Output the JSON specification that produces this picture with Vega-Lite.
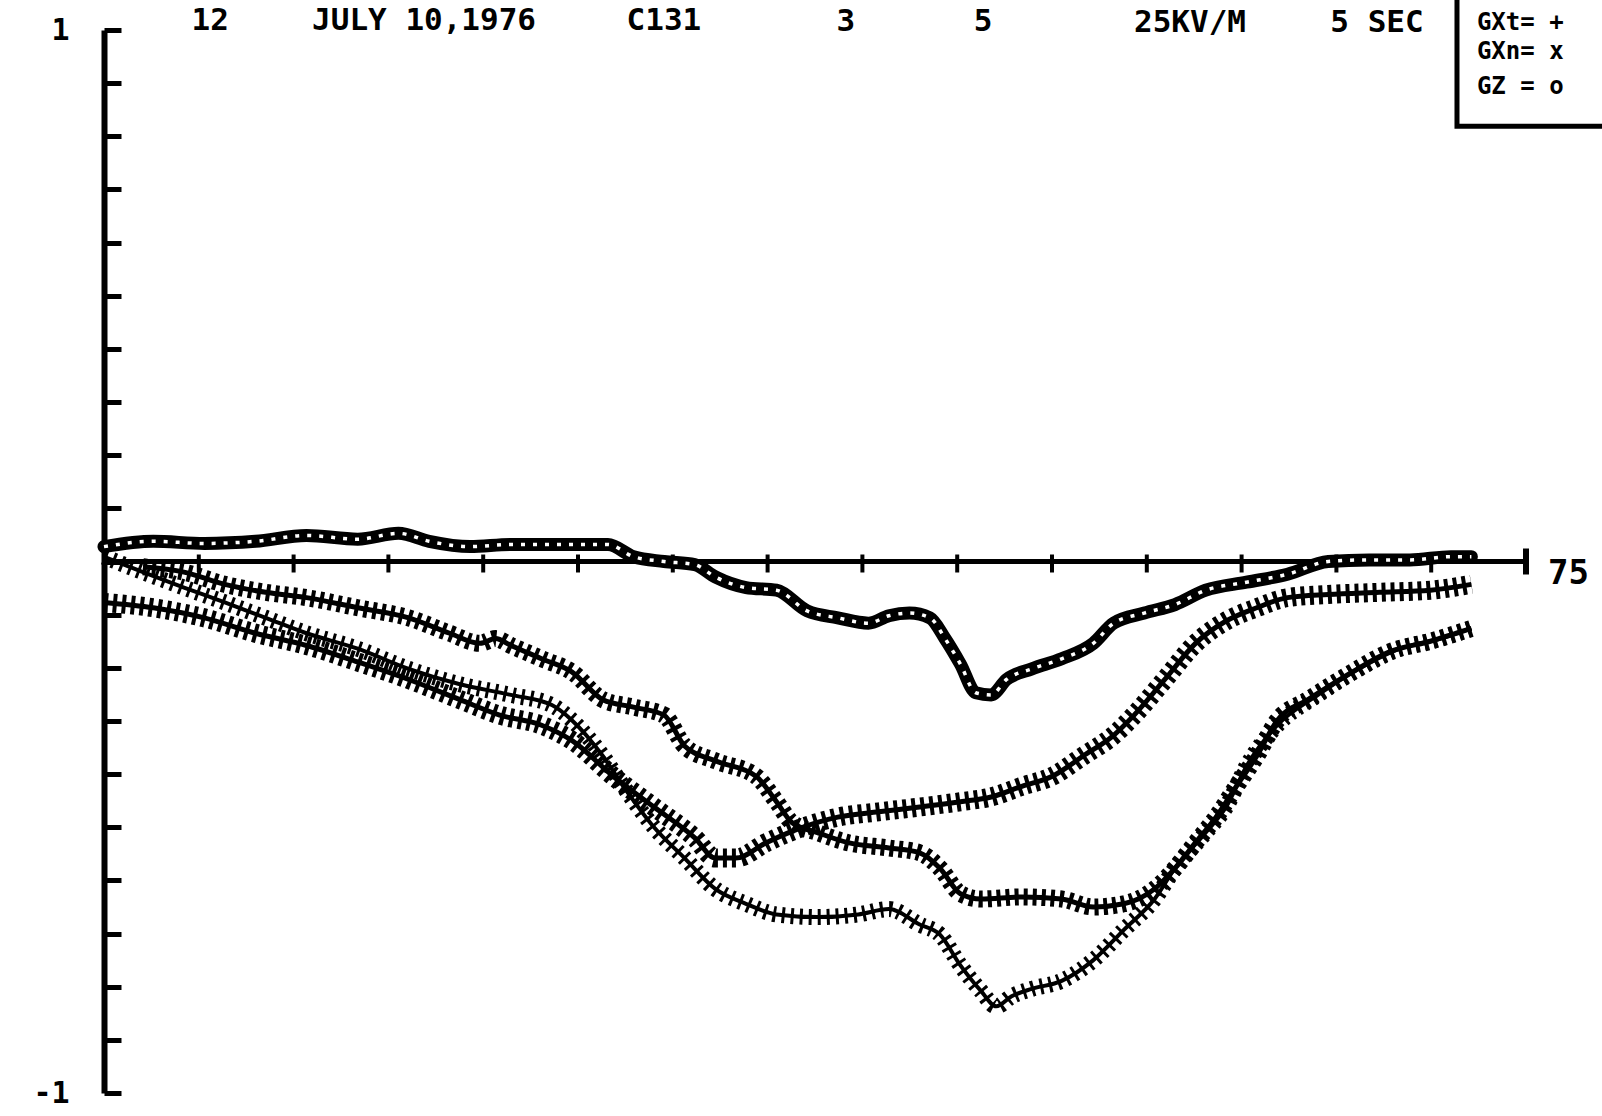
{
  "$schema": "https://vega.github.io/schema/vega-lite/v6.json",
  "width": 1422,
  "height": 1063,
  "autosize": {"type": "none"},
  "padding": {"left": 104, "top": 30, "right": 76, "bottom": 23},
  "background": "white",
  "config": {"view": {"stroke": null}},
  "datasets": {
    "curves": [
      {"s":"GZ","t":0,"v":0.028},{"s":"GZ","t":2.6,"v":0.038},{"s":"GZ","t":5.29,"v":0.034},{"s":"GZ","t":7.99,"v":0.038},{"s":"GZ","t":10.68,"v":0.049},{"s":"GZ","t":13.38,"v":0.042},{"s":"GZ","t":15.53,"v":0.053},{"s":"GZ","t":17.15,"v":0.038},{"s":"GZ","t":19.31,"v":0.028},{"s":"GZ","t":21.46,"v":0.032},{"s":"GZ","t":24.15,"v":0.032},{"s":"GZ","t":26.58,"v":0.032},{"s":"GZ","t":27.93,"v":0.009},{"s":"GZ","t":29.54,"v":0.0},{"s":"GZ","t":31.16,"v":-0.006},{"s":"GZ","t":32.24,"v":-0.029},{"s":"GZ","t":33.86,"v":-0.049},{"s":"GZ","t":35.47,"v":-0.054},{"s":"GZ","t":37.09,"v":-0.093},{"s":"GZ","t":38.7,"v":-0.106},{"s":"GZ","t":40.32,"v":-0.116},{"s":"GZ","t":41.4,"v":-0.102},{"s":"GZ","t":42.48,"v":-0.097},{"s":"GZ","t":43.56,"v":-0.106},{"s":"GZ","t":44.36,"v":-0.145},{"s":"GZ","t":45.17,"v":-0.193},{"s":"GZ","t":45.98,"v":-0.247},{"s":"GZ","t":46.79,"v":-0.251},{"s":"GZ","t":47.6,"v":-0.222},{"s":"GZ","t":48.94,"v":-0.202},{"s":"GZ","t":50.51,"v":-0.183},{"s":"GZ","t":52.18,"v":-0.154},{"s":"GZ","t":53.25,"v":-0.116},{"s":"GZ","t":54.87,"v":-0.097},{"s":"GZ","t":56.49,"v":-0.081},{"s":"GZ","t":58.11,"v":-0.054},{"s":"GZ","t":60.26,"v":-0.039},{"s":"GZ","t":62.42,"v":-0.024},{"s":"GZ","t":64.57,"v":0.0},{"s":"GZ","t":66.73,"v":0.003},{"s":"GZ","t":68.88,"v":0.003},{"s":"GZ","t":71.04,"v":0.009},{"s":"GZ","t":72.12,"v":0.009},
      {"s":"GY","t":0,"v":-0.077},{"s":"GY","t":2.6,"v":-0.087},{"s":"GY","t":5.29,"v":-0.106},{"s":"GY","t":7.99,"v":-0.135},{"s":"GY","t":10.68,"v":-0.158},{"s":"GY","t":13.38,"v":-0.189},{"s":"GY","t":16.07,"v":-0.222},{"s":"GY","t":18.77,"v":-0.26},{"s":"GY","t":20.87,"v":-0.289},{"s":"GY","t":23.08,"v":-0.308},{"s":"GY","t":24.69,"v":-0.337},{"s":"GY","t":26.85,"v":-0.404},{"s":"GY","t":29.01,"v":-0.462},{"s":"GY","t":31.16,"v":-0.52},{"s":"GY","t":32.24,"v":-0.558},{"s":"GY","t":33.32,"v":-0.558},{"s":"GY","t":34.93,"v":-0.529},{"s":"GY","t":36.55,"v":-0.504},{"s":"GY","t":38.7,"v":-0.481},{"s":"GY","t":40.86,"v":-0.471},{"s":"GY","t":43.02,"v":-0.462},{"s":"GY","t":45.17,"v":-0.452},{"s":"GY","t":46.79,"v":-0.443},{"s":"GY","t":48.41,"v":-0.423},{"s":"GY","t":50.02,"v":-0.404},{"s":"GY","t":51.64,"v":-0.366},{"s":"GY","t":53.25,"v":-0.327},{"s":"GY","t":54.33,"v":-0.289},{"s":"GY","t":55.95,"v":-0.222},{"s":"GY","t":57.57,"v":-0.154},{"s":"GY","t":59.18,"v":-0.112},{"s":"GY","t":60.8,"v":-0.087},{"s":"GY","t":62.42,"v":-0.068},{"s":"GY","t":64.57,"v":-0.062},{"s":"GY","t":67.27,"v":-0.058},{"s":"GY","t":69.96,"v":-0.054},{"s":"GY","t":72.12,"v":-0.043},
      {"s":"GXt","t":2.06,"v":-0.01},{"s":"GXt","t":4.22,"v":-0.02},{"s":"GXt","t":6.37,"v":-0.043},{"s":"GXt","t":8.53,"v":-0.058},{"s":"GXt","t":10.68,"v":-0.068},{"s":"GXt","t":13.38,"v":-0.087},{"s":"GXt","t":16.07,"v":-0.106},{"s":"GXt","t":18.23,"v":-0.135},{"s":"GXt","t":19.84,"v":-0.154},{"s":"GXt","t":20.65,"v":-0.145},{"s":"GXt","t":21.46,"v":-0.158},{"s":"GXt","t":23.08,"v":-0.183},{"s":"GXt","t":24.69,"v":-0.208},{"s":"GXt","t":26.31,"v":-0.26},{"s":"GXt","t":27.93,"v":-0.274},{"s":"GXt","t":29.54,"v":-0.289},{"s":"GXt","t":30.62,"v":-0.347},{"s":"GXt","t":32.24,"v":-0.375},{"s":"GXt","t":34.39,"v":-0.404},{"s":"GXt","t":35.47,"v":-0.452},{"s":"GXt","t":36.28,"v":-0.491},{"s":"GXt","t":37.63,"v":-0.51},{"s":"GXt","t":39.24,"v":-0.529},{"s":"GXt","t":41.4,"v":-0.539},{"s":"GXt","t":43.02,"v":-0.548},{"s":"GXt","t":44.09,"v":-0.577},{"s":"GXt","t":45.17,"v":-0.625},{"s":"GXt","t":46.25,"v":-0.635},{"s":"GXt","t":48.41,"v":-0.631},{"s":"GXt","t":50.51,"v":-0.635},{"s":"GXt","t":52.18,"v":-0.65},{"s":"GXt","t":53.79,"v":-0.644},{"s":"GXt","t":55.41,"v":-0.616},{"s":"GXt","t":56.49,"v":-0.577},{"s":"GXt","t":57.57,"v":-0.529},{"s":"GXt","t":58.65,"v":-0.481},{"s":"GXt","t":59.72,"v":-0.423},{"s":"GXt","t":60.8,"v":-0.366},{"s":"GXt","t":61.88,"v":-0.299},{"s":"GXt","t":63.5,"v":-0.26},{"s":"GXt","t":65.65,"v":-0.212},{"s":"GXt","t":67.8,"v":-0.17},{"s":"GXt","t":69.96,"v":-0.15},{"s":"GXt","t":72.12,"v":-0.126},
      {"s":"GXn","t":0,"v":0.009},{"s":"GXn","t":2.06,"v":-0.02},{"s":"GXn","t":4.22,"v":-0.049},{"s":"GXn","t":6.37,"v":-0.077},{"s":"GXn","t":8.53,"v":-0.106},{"s":"GXn","t":10.68,"v":-0.135},{"s":"GXn","t":13.38,"v":-0.164},{"s":"GXn","t":16.07,"v":-0.202},{"s":"GXn","t":18.77,"v":-0.231},{"s":"GXn","t":21.46,"v":-0.251},{"s":"GXn","t":23.62,"v":-0.27},{"s":"GXn","t":24.69,"v":-0.299},{"s":"GXn","t":26.31,"v":-0.366},{"s":"GXn","t":27.39,"v":-0.423},{"s":"GXn","t":29.01,"v":-0.5},{"s":"GXn","t":30.62,"v":-0.558},{"s":"GXn","t":32.24,"v":-0.616},{"s":"GXn","t":33.86,"v":-0.644},{"s":"GXn","t":35.47,"v":-0.664},{"s":"GXn","t":37.63,"v":-0.669},{"s":"GXn","t":39.78,"v":-0.664},{"s":"GXn","t":41.4,"v":-0.654},{"s":"GXn","t":43.02,"v":-0.683},{"s":"GXn","t":44.09,"v":-0.702},{"s":"GXn","t":45.17,"v":-0.76},{"s":"GXn","t":46.25,"v":-0.808},{"s":"GXn","t":47.06,"v":-0.837},{"s":"GXn","t":47.87,"v":-0.818},{"s":"GXn","t":48.94,"v":-0.804},{"s":"GXn","t":50.51,"v":-0.789},{"s":"GXn","t":52.18,"v":-0.75},{"s":"GXn","t":53.79,"v":-0.693},{"s":"GXn","t":55.41,"v":-0.635},{"s":"GXn","t":56.49,"v":-0.577},{"s":"GXn","t":58.11,"v":-0.51},{"s":"GXn","t":59.18,"v":-0.462},{"s":"GXn","t":60.26,"v":-0.385},{"s":"GXn","t":61.88,"v":-0.308},{"s":"GXn","t":64.03,"v":-0.251},{"s":"GXn","t":66.19,"v":-0.202},{"s":"GXn","t":68.34,"v":-0.164},{"s":"GXn","t":70.5,"v":-0.145},{"s":"GXn","t":72.12,"v":-0.126}
    ],
    "xticks": [{"t":5,"v":0},{"t":10,"v":0},{"t":15,"v":0},{"t":20,"v":0},{"t":25,"v":0},{"t":30,"v":0},{"t":35,"v":0},{"t":40,"v":0},{"t":45,"v":0},{"t":50,"v":0},{"t":55,"v":0},{"t":60,"v":0},{"t":65,"v":0},{"t":70,"v":0}],
    "axisline": [{"t":0,"t2":75,"v":0}],
    "endtick": [{"t":75,"v":0,"label":"75"}],
    "box": [{"t":71.36,"t2":80,"v":1.2,"v2":0.819}],
    "header": [
      {"t":5.6,"v":1.017,"label":"12"},
      {"t":16.88,"v":1.017,"label":"JULY 10,1976"},
      {"t":29.53,"v":1.016,"label":"C131"},
      {"t":39.13,"v":1.015,"label":"3"},
      {"t":46.36,"v":1.015,"label":"5"},
      {"t":57.28,"v":1.014,"label":"25KV/M"},
      {"t":67.14,"v":1.013,"label":"5 SEC"}
    ],
    "legend": [
      {"t":72.41,"v":1.014,"label":"GXt= +"},
      {"t":72.41,"v":0.958,"label":"GXn= x"},
      {"t":72.41,"v":0.892,"label":"GZ = o"}
    ]
  },
  "data": {"name": "curves"},
  "encoding": {
    "x": {"field": "t", "type": "quantitative", "scale": {"domain": [0, 75], "nice": false, "zero": false}, "axis": null},
    "y": {"field": "v", "type": "quantitative", "scale": {"domain": [-1, 1], "nice": false, "zero": false},
      "axis": {"title": null, "values": [-1,-0.9,-0.8,-0.7,-0.6,-0.5,-0.4,-0.3,-0.2,-0.1,0,0.1,0.2,0.3,0.4,0.5,0.6,0.7,0.8,0.9,1],
        "grid": false, "domainColor": "black", "domainWidth": 6, "tickColor": "black", "tickWidth": 5, "tickSize": -17,
        "labelExpr": "datum.value == 1 ? '1' : (datum.value == -1 ? '-1' : '')",
        "labelFont": "DejaVu Sans Mono", "labelFontWeight": "bold", "labelFontSize": 30, "labelColor": "black",
        "labelPadding": 52, "labelOverlap": false}}
  },
  "layer": [
    {"data": {"name": "box"}, "mark": {"type": "rect", "fill": "white", "stroke": "black", "strokeWidth": 5},
     "encoding": {"x2": {"field": "t2"}, "y2": {"field": "v2"}}},
    {"data": {"name": "axisline"}, "mark": {"type": "rule", "color": "black", "strokeWidth": 5},
     "encoding": {"x2": {"field": "t2"}}},
    {"data": {"name": "xticks"}, "mark": {"type": "tick", "orient": "vertical", "color": "black", "size": 18, "thickness": 4, "opacity": 1, "yOffset": 2}},
    {"data": {"name": "endtick"}, "mark": {"type": "tick", "orient": "vertical", "color": "black", "size": 26, "thickness": 6, "opacity": 1}},
    {"data": {"name": "endtick"}, "mark": {"type": "text", "align": "left", "baseline": "middle", "dx": 22, "dy": 12, "font": "DejaVu Sans Mono", "fontWeight": "bold", "fontSize": 34, "color": "black"},
     "encoding": {"text": {"field": "label"}}},
    {"transform": [{"filter": "datum.s == 'GY'"}], "mark": {"type": "line", "color": "black", "strokeWidth": 5, "interpolate": "monotone"}},
    {"transform": [{"filter": "datum.s == 'GY'"}], "mark": {"type": "line", "color": "black", "strokeWidth": 19, "strokeDash": [4, 5], "interpolate": "monotone"}},
    {"transform": [{"filter": "datum.s == 'GXt'"}], "mark": {"type": "line", "color": "black", "strokeWidth": 5, "interpolate": "monotone"}},
    {"transform": [{"filter": "datum.s == 'GXt'"}], "mark": {"type": "line", "color": "black", "strokeWidth": 17, "strokeDash": [4, 5], "interpolate": "monotone"}},
    {"transform": [{"filter": "datum.s == 'GXn'"}], "mark": {"type": "line", "color": "black", "strokeWidth": 4, "interpolate": "monotone"}},
    {"transform": [{"filter": "datum.s == 'GXn'"}], "mark": {"type": "line", "color": "black", "strokeWidth": 16, "strokeDash": [3, 6], "interpolate": "monotone"}},
    {"transform": [{"filter": "datum.s == 'GZ'"}], "mark": {"type": "line", "color": "black", "strokeWidth": 13, "strokeJoin": "round", "strokeCap": "round", "interpolate": "monotone"}},
    {"transform": [{"filter": "datum.s == 'GZ'"}], "mark": {"type": "line", "color": "white", "strokeWidth": 3.5, "strokeDash": [4, 8], "interpolate": "monotone"}},
    {"data": {"name": "header"}, "mark": {"type": "text", "align": "center", "baseline": "middle", "font": "DejaVu Sans Mono", "fontWeight": "bold", "fontSize": 31, "color": "black"},
     "encoding": {"text": {"field": "label"}}},
    {"data": {"name": "legend"}, "mark": {"type": "text", "align": "left", "baseline": "middle", "font": "DejaVu Sans Mono", "fontWeight": "bold", "fontSize": 24, "color": "black"},
     "encoding": {"text": {"field": "label"}}}
  ]
}
